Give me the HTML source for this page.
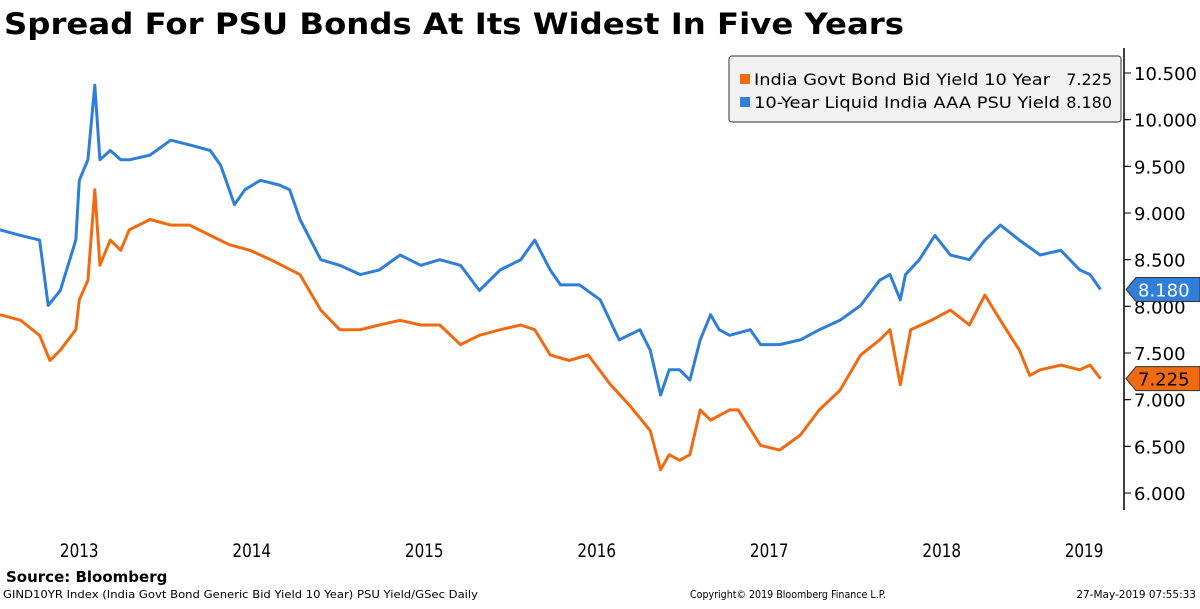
<!DOCTYPE html>
<html><head><meta charset="utf-8"><style>
body{margin:0;background:#fff;font-family:"Liberation Sans",sans-serif;}
svg text{font-family:"DejaVu Sans","Liberation Sans",sans-serif;}
</style></head><body>
<svg id="chart" width="1200" height="604" viewBox="0 0 1200 604">
<text x="4" y="34" font-size="29" font-weight="bold" fill="#000" textLength="900" lengthAdjust="spacingAndGlyphs">Spread For PSU Bonds At Its Widest In Five Years</text>
<line x1="1124" y1="48" x2="1124" y2="510" stroke="#000" stroke-width="1.5"/>
<g id="yticks"></g>
<g id="xticks"></g>
<g id="series"></g>
<g>
<rect x="729" y="56" width="392" height="66" rx="3" fill="#f2f2f2" stroke="#555" stroke-width="1.2"/>
<rect x="740" y="74" width="10" height="10" fill="#f26a10"/>
<text x="754" y="85" font-size="16" textLength="296" lengthAdjust="spacingAndGlyphs">India Govt Bond Bid Yield 10 Year</text>
<text x="1112" y="85" font-size="16" text-anchor="end">7.225</text>
<rect x="740" y="97" width="10" height="10" fill="#2f7ed8"/>
<text x="754" y="108" font-size="16" textLength="306" lengthAdjust="spacingAndGlyphs">10-Year Liquid India AAA PSU Yield</text>
<text x="1112" y="108" font-size="16" text-anchor="end">8.180</text>
</g>
<g id="callouts"></g>
<text x="6" y="582" font-size="15" font-weight="bold">Source: Bloomberg</text>
<text x="3" y="598" font-size="10.5" textLength="475" lengthAdjust="spacingAndGlyphs">GIND10YR Index (India Govt Bond Generic Bid Yield 10 Year) PSU Yield/GSec  Daily</text>
<text x="690" y="598" font-size="10.5" textLength="196" lengthAdjust="spacingAndGlyphs">Copyright© 2019 Bloomberg Finance L.P.</text>
<text x="1196" y="598" font-size="10.5" text-anchor="end">27-May-2019 07:55:33</text>
</svg>
<script>
const yTicks=[6.0,6.5,7.0,7.5,8.0,8.5,9.0,9.5,10.0,10.5];
const xYears=[2013,2014,2015,2016,2017,2018,2019];
const psuDates=[2013.04,2013.16,2013.27,2013.32,2013.39,2013.48,2013.50,2013.55,2013.59,2013.62,2013.68,2013.74,2013.79,2013.91,2014.03,2014.14,2014.26,2014.32,2014.40,2014.46,2014.55,2014.66,2014.72,2014.78,2014.90,2015.01,2015.13,2015.24,2015.36,2015.48,2015.59,2015.71,2015.82,2015.94,2016.06,2016.14,2016.23,2016.29,2016.40,2016.52,2016.63,2016.75,2016.81,2016.87,2016.92,2016.98,2017.04,2017.10,2017.16,2017.21,2017.27,2017.39,2017.45,2017.56,2017.68,2017.79,2017.91,2018.03,2018.14,2018.20,2018.26,2018.29,2018.37,2018.46,2018.55,2018.66,2018.75,2018.84,2018.95,2019.07,2019.19,2019.30,2019.36,2019.42];
const psuValues=[8.82,8.76,8.71,8.01,8.17,8.71,9.35,9.57,10.37,9.57,9.67,9.57,9.57,9.62,9.78,9.73,9.67,9.51,9.09,9.25,9.35,9.30,9.25,8.93,8.50,8.44,8.34,8.39,8.55,8.44,8.50,8.44,8.17,8.39,8.50,8.71,8.39,8.23,8.23,8.07,7.64,7.75,7.53,7.05,7.32,7.32,7.21,7.64,7.91,7.75,7.69,7.75,7.59,7.59,7.64,7.75,7.85,8.01,8.28,8.34,8.07,8.34,8.50,8.76,8.55,8.50,8.71,8.87,8.71,8.55,8.60,8.39,8.34,8.18];
const govtDates=[2013.04,2013.16,2013.27,2013.33,2013.39,2013.48,2013.50,2013.55,2013.59,2013.62,2013.68,2013.74,2013.79,2013.91,2014.03,2014.14,2014.26,2014.37,2014.49,2014.61,2014.78,2014.90,2015.01,2015.13,2015.24,2015.36,2015.48,2015.59,2015.71,2015.82,2015.94,2016.06,2016.14,2016.23,2016.34,2016.45,2016.58,2016.69,2016.81,2016.87,2016.92,2016.98,2017.04,2017.10,2017.16,2017.27,2017.32,2017.45,2017.56,2017.68,2017.79,2017.91,2018.03,2018.14,2018.20,2018.26,2018.32,2018.44,2018.55,2018.66,2018.75,2018.84,2018.95,2019.01,2019.07,2019.19,2019.30,2019.36,2019.42];
const govtValues=[7.91,7.85,7.69,7.42,7.53,7.75,8.07,8.28,9.25,8.44,8.71,8.60,8.82,8.93,8.87,8.87,8.76,8.66,8.60,8.50,8.34,7.96,7.75,7.75,7.80,7.85,7.80,7.80,7.59,7.69,7.75,7.80,7.75,7.48,7.42,7.48,7.16,6.94,6.67,6.25,6.41,6.35,6.41,6.89,6.78,6.89,6.89,6.51,6.46,6.62,6.89,7.10,7.48,7.64,7.75,7.16,7.75,7.85,7.96,7.80,8.12,7.85,7.53,7.26,7.32,7.37,7.32,7.37,7.225];
const NS="http://www.w3.org/2000/svg";
const yScale=v=>73+(10.5-v)*93.33;
const xScale=d=>(d-2013)*172.5-7;
function mk(tag,attrs,parent){const e=document.createElementNS(NS,tag);for(const k in attrs)e.setAttribute(k,attrs[k]);parent.appendChild(e);return e;}
const yg=document.getElementById('yticks');
yTicks.forEach((t,i)=>{
  const y=yScale(t);
  const l=mk('line',{x1:1124,x2:1131,y1:y,y2:y,stroke:'#000'},yg);
  
  
  if(i>0){
    const m=mk('line',{x1:1124,x2:1129,y1:y+46.67,y2:y+46.67,stroke:'#000'},yg);
    
    
  }
  const tx=mk('text',{x:1134,y:y+7,'font-size':18},yg);
  tx.textContent=t.toFixed(3);
  
  
});
const xg=document.getElementById('xticks');
xYears.forEach(yr=>{
  const end=Math.min(yr+1,2019.65);
  const cx=(xScale(yr)+xScale(end))/2;
  const tx=mk('text',{x:cx,y:557,'font-size':19,'text-anchor':'middle',transform:`translate(${cx},0) scale(0.8,1) translate(${-cx},0)`},xg);
  tx.textContent=yr;
  
  
});
const sg=document.getElementById('series');
function line(dates,vals,color,name){
  const d=dates.map((x,i)=>(i?'L':'M')+xScale(x).toFixed(1)+','+yScale(vals[i]).toFixed(1)).join(' ');
  const p=mk('path',{d:d,fill:'none',stroke:color,'stroke-width':3,'stroke-linejoin':'round'},sg);
  
  
}
line(psuDates,psuValues,'#2f7ed8','psu-yield-line');
line(govtDates,govtValues,'#f26a10','govt-yield-line');
const cg=document.getElementById('callouts');
function callout(v,fill,txtColor,name){
  const y=yScale(v);
  const p=mk('path',{d:`M1126,${y} L1136,${y-12} L1200,${y-12} L1200,${y+12} L1136,${y+12} Z`,fill:fill,stroke:'#333','stroke-width':1},cg);
  
  
  const t=mk('text',{x:1138,y:y+7,'font-size':18,fill:txtColor},cg);
  t.textContent=v.toFixed(3);
  
  
}
callout(psuValues[psuValues.length-1],'#2f7ed8','#fff','psu-last');
callout(govtValues[govtValues.length-1],'#f26a10','#000','govt-last');
</script>
</body></html>
